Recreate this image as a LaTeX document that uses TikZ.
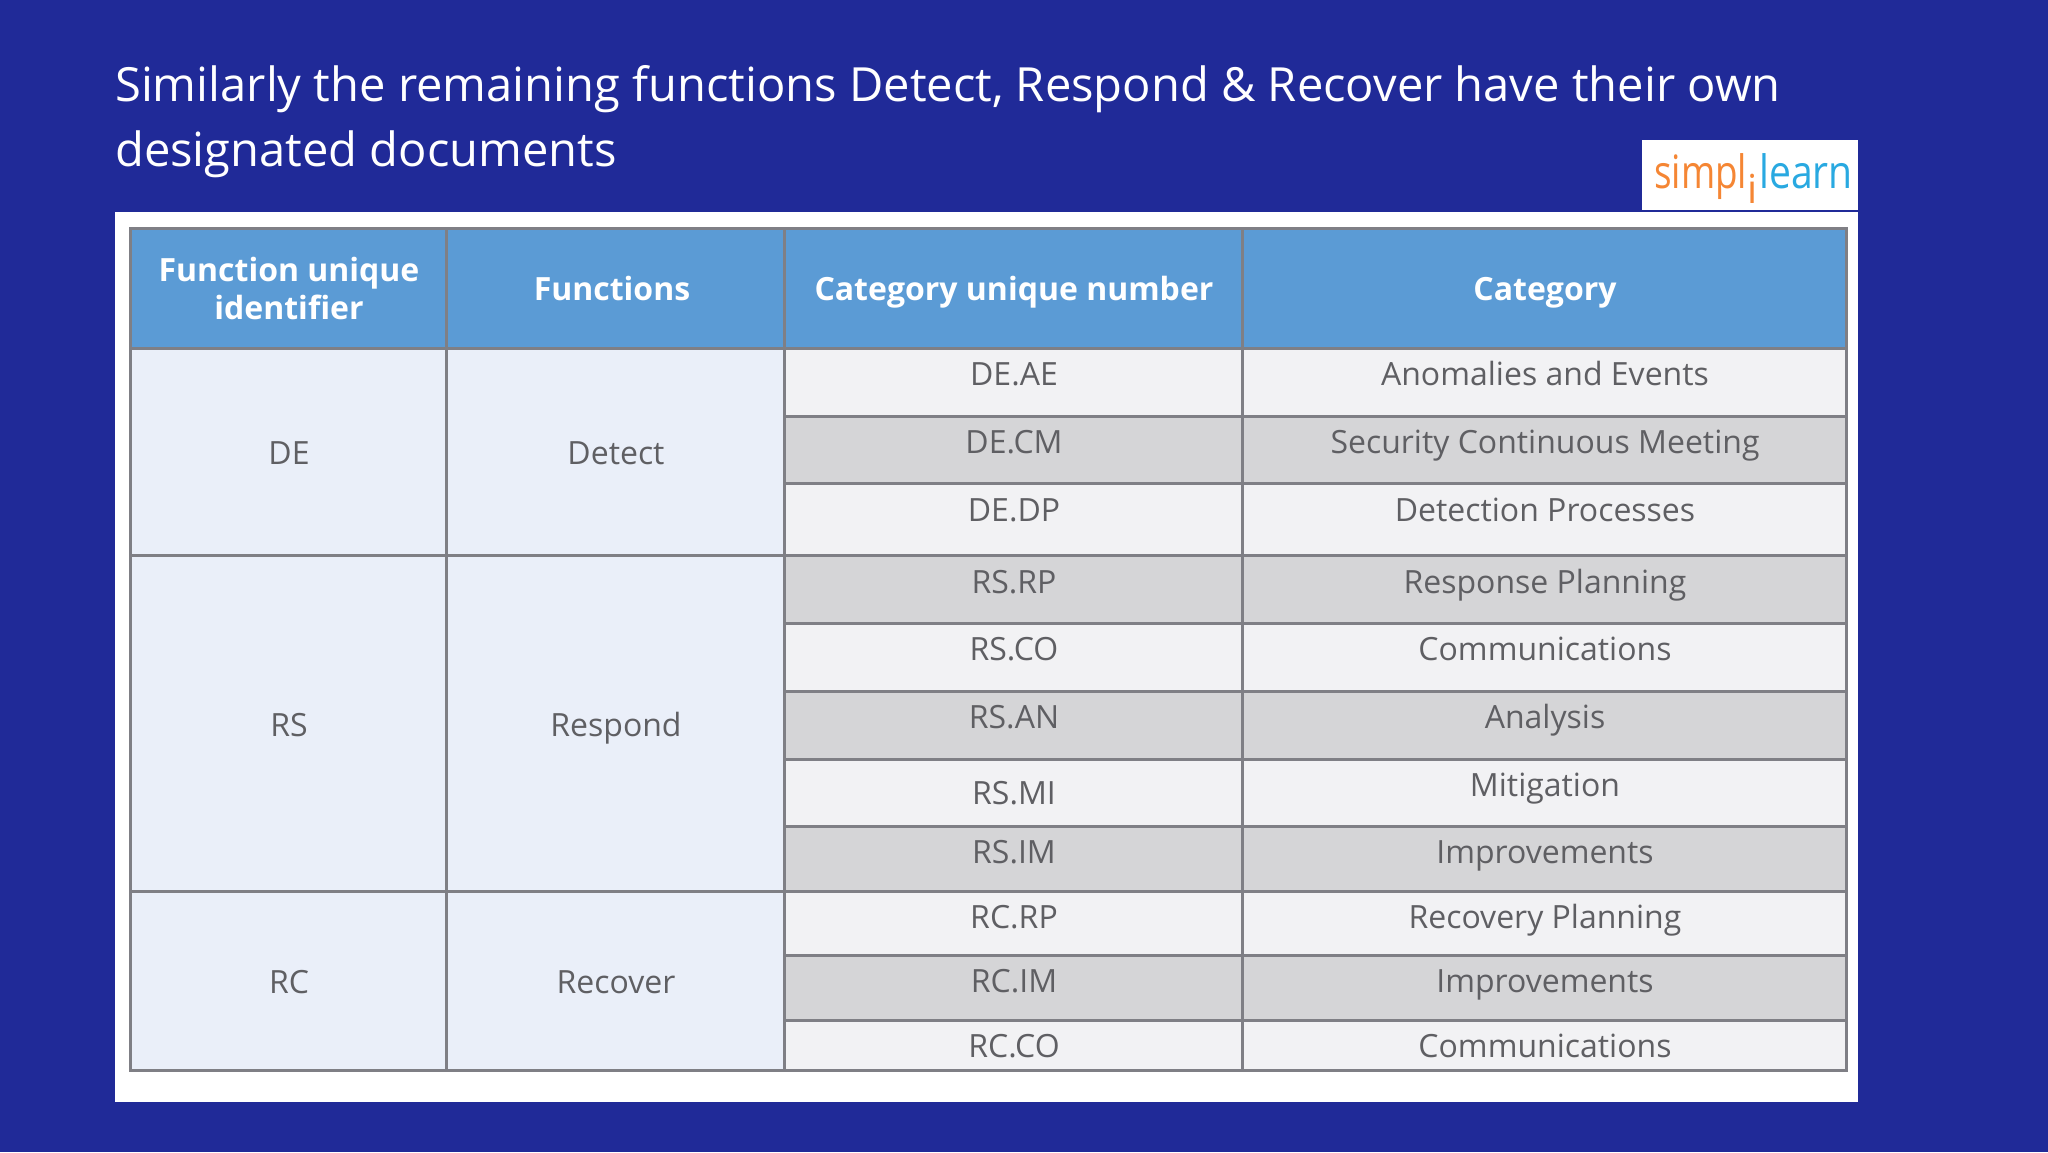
\documentclass[tikz,border=0pt]{standalone}
\usepackage{graphicx}
\usepackage{fontspec}
\setmainfont{Open Sans}
\definecolor{bgblue}{HTML}{202A98}
\definecolor{headblue}{HTML}{5B9BD5}
\definecolor{paleblue}{HTML}{EAEFF9}
\definecolor{lightrow}{HTML}{F2F2F4}
\definecolor{darkrow}{HTML}{D5D5D7}
\definecolor{gridline}{HTML}{7F7F85}
\definecolor{celltext}{HTML}{5F5F63}
\definecolor{logoorange}{HTML}{F58634}
\definecolor{logoblue}{HTML}{29A9E1}
\tikzset{
  x=1pt,y=-1pt,
  cellbox/.style={draw=gridline,line width=2.7pt},
  celltxt/.style={anchor=base,inner sep=0pt,text=celltext,font=\fontsize{32}{36}\selectfont},
  headtxt/.style={anchor=base,inner sep=0pt,text=white,font=\fontsize{32}{36}\selectfont\bfseries},
  titletxt/.style={anchor=base west,inner sep=0pt,text=white,font=\fontsize{47.1}{58}\selectfont},
}
\newcommand{\tcell}[5]{\path[cellbox,fill=#5,xshift=-.6pt,yshift=.8pt] (#1,#2) rectangle (#3,#4);}
\begin{document}
\begin{tikzpicture}
\useasboundingbox (0,0) rectangle (2048,1152);
\fill[bgblue] (0,0) rectangle (2048,1152);
\node[titletxt] (t1) at (115,101) {Similarly the remaining functions Detect, Respond \& Recover have their own};
\node[titletxt] (t2) at (115,166) {designated documents};
\fill[white] (115,212) rectangle (1858,1102);
\fill[white] (1642,140) rectangle (1858,210);
% logo
\node[anchor=base west,inner sep=0pt,text=logoorange,font=\fontsize{46}{46}\selectfont] (lg1) at (1654,188) {\scalebox{.8}[1]{simpl}};
\node[anchor=base,inner sep=0pt,text=logoorange,font=\fontsize{40}{40}\selectfont] (lg2) at (1753,203) {i};
\node[anchor=base west,inner sep=0pt,text=logoblue,font=\fontsize{46}{46}\selectfont] (lg3) at (1759,188) {\scalebox{.85}[1]{learn}};
% header
\tcell{131}{229}{447}{349}{headblue}
\tcell{447}{229}{785}{349}{headblue}
\tcell{785}{229}{1243}{349}{headblue}
\tcell{1243}{229}{1847}{349}{headblue}
\node[headtxt] (h1a) at (289,281) {Function unique};
\node[headtxt] (h1b) at (289,319) {identifier};
\node[headtxt] (h2) at (612,300) {Functions};
\node[headtxt] (h3) at (1014,300) {Category unique number};
\node[headtxt] (h4) at (1545,300) {Category};
% merged cells
\tcell{131}{349}{447}{556}{paleblue}
\tcell{447}{349}{785}{556}{paleblue}
\tcell{131}{556}{447}{892}{paleblue}
\tcell{447}{556}{785}{892}{paleblue}
\tcell{131}{892}{447}{1071}{paleblue}
\tcell{447}{892}{785}{1071}{paleblue}
\node[celltxt] (de) at (289,464) {DE};
\node[celltxt] (detect) at (616,464) {Detect};
\node[celltxt] (rs) at (289,736) {RS};
\node[celltxt] (respond) at (616,736) {Respond};
\node[celltxt] (rc) at (289,993) {RC};
\node[celltxt] (recover) at (616,993) {Recover};
% rows
\newcommand{\trow}[7]{%
  \tcell{785}{#1}{1243}{#2}{#3}
  \tcell{1243}{#1}{1847}{#2}{#3}
  \node[celltxt] at (1014,#4) {#5};
  \node[celltxt] at (1545,#6) {#7};
}
\trow{349}{417}{lightrow}{385}{DE.AE}{385}{Anomalies and Events}
\trow{417}{484}{darkrow}{453}{DE.CM}{453}{Security Continuous Meeting}
\trow{484}{556}{lightrow}{521}{DE.DP}{521}{Detection Processes}
\trow{556}{624}{darkrow}{593}{RS.RP}{593}{Response Planning}
\trow{624}{692}{lightrow}{660}{RS.CO}{660}{Communications}
\trow{692}{760}{darkrow}{728}{RS.AN}{728}{Analysis}
\trow{760}{827}{lightrow}{804}{RS.MI}{796}{Mitigation}
\trow{827}{892}{darkrow}{863}{RS.IM}{863}{Improvements}
\trow{892}{956}{lightrow}{928}{RC.RP}{928}{Recovery Planning}
\trow{956}{1021}{darkrow}{992}{RC.IM}{992}{Improvements}
\trow{1021}{1071}{lightrow}{1057}{RC.CO}{1057}{Communications}
\end{tikzpicture}
\end{document}
